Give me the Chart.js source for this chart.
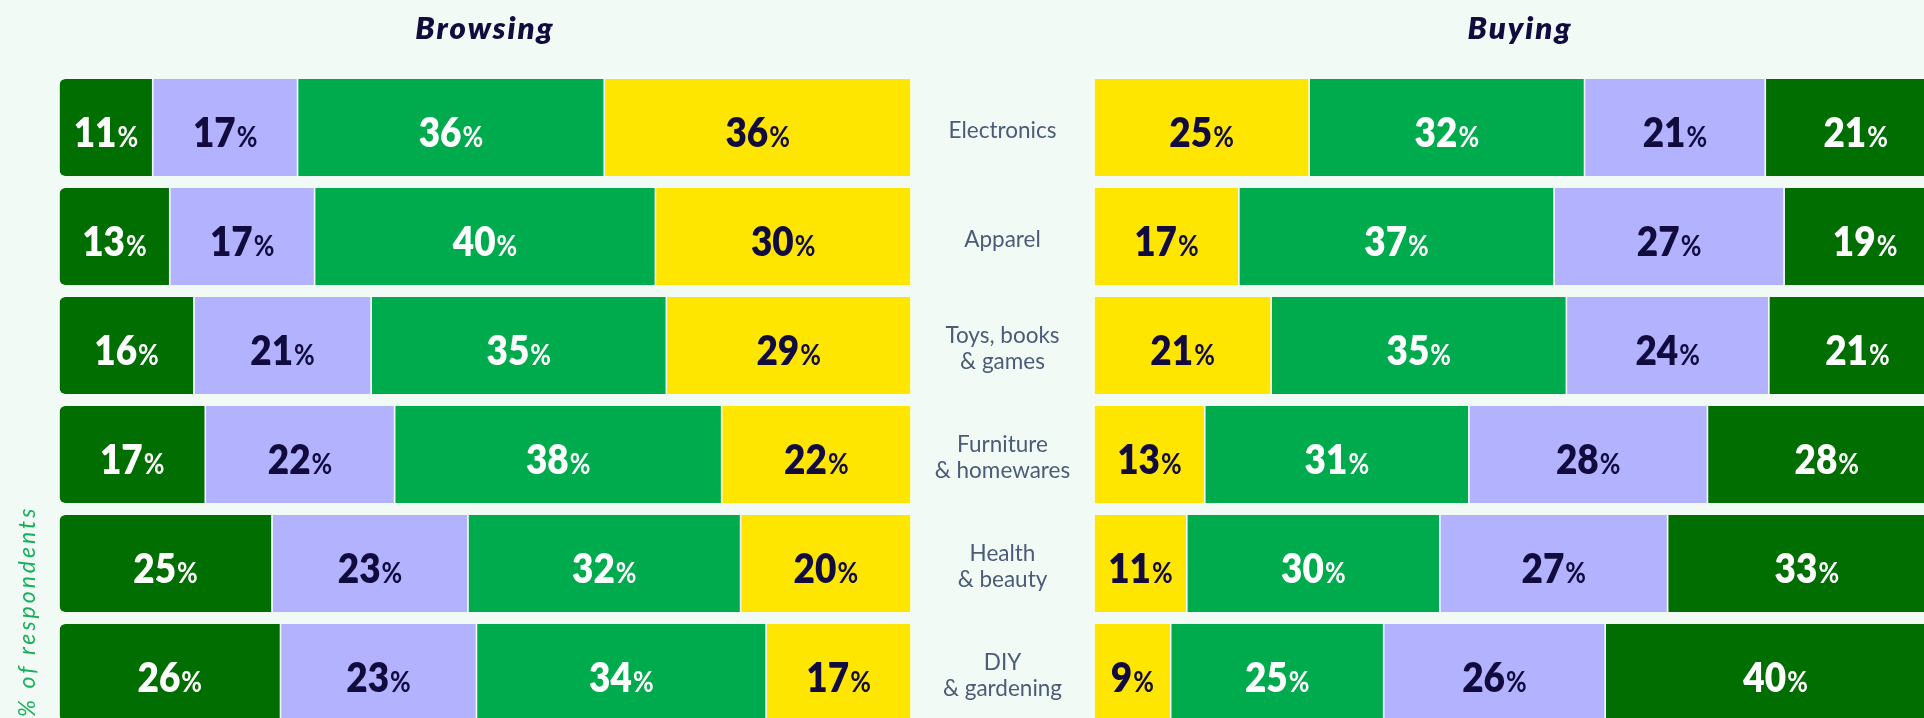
<!DOCTYPE html>
<html>
<head>
<meta charset="utf-8">
<script src="https://cdn.jsdelivr.net/npm/chart.js@4.4.1/dist/chart.umd.min.js"></script>
<style>
  html, body { margin: 0; padding: 0; background: #f1faf5; overflow: hidden; width: 1924px; height: 718px; }
  #wrap { position: relative; width: 1960px; height: 740px; }
  #leftBox { position: absolute; left: 0; top: 0; }
  #rightBox { position: absolute; left: 911px; top: 0; }
  canvas { display: block; }
</style>
</head>
<body>
<div id="wrap">
  <div id="leftBox"><canvas id="left" width="911" height="740"></canvas></div>
  <div id="rightBox"><canvas id="right" width="1035" height="740"></canvas></div>
</div>
<script>
// ---------------- data ----------------
const categories = [
  ['Electronics'],
  ['Apparel'],
  ['Toys, books', '& games'],
  ['Furniture', '& homewares'],
  ['Health', '& beauty'],
  ['DIY', '& gardening']
];
const panelTitles = ['Browsing', 'Buying'];
const axisTitle = '% of respondents';

// Browsing (left panel), left-to-right order: dark green, lavender, mid green, yellow
const browsingDarkGreen = [11, 13, 16, 17, 25, 26];
const browsingLavender  = [17, 17, 21, 22, 23, 23];
const browsingMidGreen  = [36, 40, 35, 38, 32, 34];
const browsingYellow    = [36, 30, 29, 22, 20, 17];

// Buying (right panel), left-to-right order: yellow, mid green, lavender, dark green
const buyingYellow    = [25, 17, 21, 13, 11, 9];
const buyingMidGreen  = [32, 37, 35, 31, 30, 25];
const buyingLavender  = [21, 27, 24, 28, 27, 26];
const buyingDarkGreen = [21, 19, 21, 28, 33, 40];

// ---------------- styles ----------------
const COLORS = {
  darkGreen: '#006e00',
  lavender: '#b2b2ff',
  midGreen: '#00ab4e',
  yellow: '#ffe600',
  navy: '#110c3d',
  white: '#ffffff',
  category: '#4b5b78',
  axisTitle: '#17b05a'
};

// share of each row total (100% stacked bars)
function shares(series, all) {
  return series.map((v, i) => {
    const tot = all.reduce((s, arr) => s + arr[i], 0);
    return v / tot * 100;
  });
}

function makeDataset(label, raw, group, color, textColor, radius) {
  return {
    label: label,
    data: shares(raw, group),
    rawValues: raw,
    labelColor: textColor,
    backgroundColor: color,
    borderColor: '#ffffff',
    borderWidth: { left: 0.8, right: 0.8, top: 0, bottom: 0 },
    borderSkipped: false,
    borderRadius: radius || 0,
    barPercentage: 0.89,
    categoryPercentage: 1.0
  };
}

function drawPct(ctx, v, cx, cy, color) {
  const sx = 0.9, gap = 1;
  ctx.save();
  ctx.fillStyle = color;
  ctx.textBaseline = 'alphabetic';
  ctx.textAlign = 'left';
  const num = String(v);
  ctx.font = '800 41px Lato';
  const wn = ctx.measureText(num).width * sx;
  ctx.font = '700 28px Lato';
  const wp = ctx.measureText('%').width * sx;
  const total = wn + gap + wp;
  ctx.translate(cx - total / 2, cy + 19);
  ctx.scale(sx, 1);
  ctx.font = '800 41px Lato';
  ctx.fillText(num, 0, 0);
  ctx.font = '700 28px Lato';
  ctx.fillText('%', (wn + gap) / sx, 0);
  ctx.restore();
}

const valueLabels = {
  id: 'valueLabels',
  afterDatasetsDraw(chart) {
    const ctx = chart.ctx;
    chart.data.datasets.forEach((ds, di) => {
      const meta = chart.getDatasetMeta(di);
      meta.data.forEach((bar, i) => {
        drawPct(ctx, ds.rawValues[i], (bar.x + bar.base) / 2, bar.y, ds.labelColor);
      });
    });
  }
};

const panelTitle = {
  id: 'panelTitle',
  afterDraw(chart, args, opts) {
    const ctx = chart.ctx, a = chart.chartArea;
    ctx.save();
    ctx.fillStyle = COLORS.navy;
    ctx.font = 'italic 800 31px Lato';
    ctx.letterSpacing = '2px';
    ctx.textAlign = 'center';
    ctx.textBaseline = 'alphabetic';
    ctx.fillText(opts.text, (a.left + a.right) / 2, 39);
    ctx.restore();
  }
};

const sideTitle = {
  id: 'sideTitle',
  afterDraw(chart, args, opts) {
    if (!opts.text) return;
    const ctx = chart.ctx;
    ctx.save();
    ctx.fillStyle = COLORS.axisTitle;
    ctx.font = 'italic 400 23px Lato';
    ctx.letterSpacing = '3px';
    ctx.textAlign = 'left';
    ctx.textBaseline = 'alphabetic';
    ctx.translate(35, 717);
    ctx.rotate(-Math.PI / 2);
    ctx.fillText(opts.text, 0, 0);
    ctx.restore();
  }
};

const categoryLabels = {
  id: 'categoryLabels',
  afterDraw(chart) {
    const ctx = chart.ctx, y = chart.scales.y;
    const cx = chart.chartArea.left / 2;
    ctx.save();
    ctx.fillStyle = COLORS.category;
    ctx.font = '400 22.5px Lato';
    ctx.textAlign = 'center';
    ctx.textBaseline = 'alphabetic';
    chart.data.labels.forEach((lines, i) => {
      const cy = y.getPixelForValue(i);
      lines.forEach((t, k) => {
        ctx.fillText(t, cx, cy + 10 + (k - (lines.length - 1) / 2) * 26);
      });
    });
    ctx.restore();
  }
};

function baseOptions(padLeft, reverseX, titleText, sideText) {
  return {
    indexAxis: 'y',
    responsive: false,
    animation: false,
    layout: { padding: { left: padLeft, right: 0, top: 73, bottom: 13 } },
    scales: {
      x: { stacked: true, min: 0, max: 100, reverse: reverseX, display: false },
      y: { stacked: true, display: false }
    },
    plugins: {
      legend: { display: false },
      tooltip: { enabled: false },
      title: { display: false },
      panelTitle: { text: titleText },
      sideTitle: { text: sideText }
    }
  };
}

const browsingAll = [browsingDarkGreen, browsingLavender, browsingMidGreen, browsingYellow];
const buyingAll = [buyingYellow, buyingMidGreen, buyingLavender, buyingDarkGreen];

// Left panel: axis reversed so the dark green segment is the outer (rounded) end of the stack
new Chart(document.getElementById('left'), {
  type: 'bar',
  data: {
    labels: categories,
    datasets: [
      makeDataset('Yellow', browsingYellow, browsingAll, COLORS.yellow, COLORS.navy),
      makeDataset('Mid green', browsingMidGreen, browsingAll, COLORS.midGreen, COLORS.white),
      makeDataset('Lavender', browsingLavender, browsingAll, COLORS.lavender, COLORS.navy),
      makeDataset('Dark green', browsingDarkGreen, browsingAll, COLORS.darkGreen, COLORS.white,
        { topLeft: 6, bottomLeft: 6, topRight: 0, bottomRight: 0 })
    ]
  },
  options: baseOptions(59, true, panelTitles[0], axisTitle),
  plugins: [valueLabels, panelTitle, sideTitle]
});

new Chart(document.getElementById('right'), {
  type: 'bar',
  data: {
    labels: categories,
    datasets: [
      makeDataset('Yellow', buyingYellow, buyingAll, COLORS.yellow, COLORS.navy),
      makeDataset('Mid green', buyingMidGreen, buyingAll, COLORS.midGreen, COLORS.white),
      makeDataset('Lavender', buyingLavender, buyingAll, COLORS.lavender, COLORS.navy),
      makeDataset('Dark green', buyingDarkGreen, buyingAll, COLORS.darkGreen, COLORS.white,
        { topLeft: 0, bottomLeft: 0, topRight: 6, bottomRight: 6 })
    ]
  },
  options: baseOptions(183, false, panelTitles[1], null),
  plugins: [valueLabels, panelTitle, sideTitle, categoryLabels]
});
</script>
</body>
</html>
